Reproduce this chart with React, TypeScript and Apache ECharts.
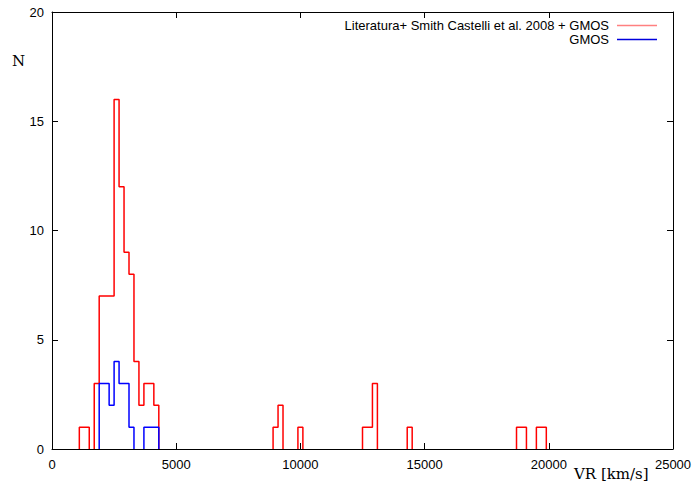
import React, { useEffect, useRef } from "react";
import * as echarts from "echarts";

// Histogram bins: width 200 km/s, listed by left edge (only non-empty bins)
const binWidth = 200;
const redEdges = [1100, 1300, 1700, 1900, 2100, 2300, 2500, 2700, 2900, 3100, 3300, 3500, 3700, 3900, 4100, 8900, 9100, 9900, 12500, 12700, 12900, 14300, 18700, 18900, 19500, 19700];
const redCounts = [1, 1, 3, 7, 7, 7, 16, 12, 9, 8, 4, 2, 3, 3, 2, 1, 2, 1, 1, 1, 3, 1, 1, 1, 1, 1];
const blueEdges = [1900, 2100, 2300, 2500, 2700, 2900, 3100, 3700, 3900, 4100];
const blueCounts = [3, 3, 2, 4, 3, 3, 1, 1, 1, 1];

const xTicks = [0, 5000, 10000, 15000, 20000, 25000];
const yTicks = [0, 5, 10, 15, 20];

const redLabel = "Literatura+ Smith Castelli et al. 2008 + GMOS";
const blueLabel = "GMOS";

function outline(edges: number[], counts: number[]) {
  const pts: any[] = [];
  for (let i = 0; i < edges.length; i++) {
    const l = edges[i];
    const r = l + binWidth;
    const startSeg = i === 0 || edges[i - 1] + binWidth !== l;
    const endSeg = i === edges.length - 1 || edges[i + 1] !== r;
    if (startSeg) pts.push([l, 0]);
    pts.push([l, counts[i]]);
    pts.push([r, counts[i]]);
    if (endSeg) {
      pts.push([r, 0]);
      pts.push([r, "-"]);
    }
  }
  return pts;
}

export default function App() {
  const ref = useRef<HTMLDivElement>(null);
  useEffect(() => {
    if (!ref.current) return;
    const chart = echarts.init(ref.current, null, { renderer: "svg" });
    const axisCommon = {
      type: "value" as const,
      axisLine: { show: true, onZero: false, lineStyle: { color: "#000", width: 1 } },
      axisTick: { show: true, inside: true, length: 6, lineStyle: { color: "#000" } },
      splitLine: { show: false },
    };
    const sans = "'Liberation Sans', Arial, sans-serif";
    const serif = "'DejaVu Serif', serif";
    const fmt = (v: number) => String(v);
    chart.setOption({
      animation: false,
      backgroundColor: "#fff",
      grid: { left: 52, right: 23, top: 12, bottom: 44 },
      xAxis: [
        {
          ...axisCommon,
          position: "bottom",
          min: xTicks[0],
          max: xTicks[xTicks.length - 1],
          interval: 5000,
          axisLabel: { color: "#000", fontSize: 13, fontFamily: sans, margin: 9, formatter: fmt },
        },
        {
          ...axisCommon,
          position: "top",
          min: xTicks[0],
          max: xTicks[xTicks.length - 1],
          interval: 5000,
          axisLabel: { show: false },
        },
      ],
      yAxis: [
        {
          ...axisCommon,
          position: "left",
          min: yTicks[0],
          max: yTicks[yTicks.length - 1],
          interval: 5,
          axisLabel: { color: "#000", fontSize: 13, fontFamily: sans, margin: 8, formatter: fmt },
        },
        {
          ...axisCommon,
          position: "right",
          min: yTicks[0],
          max: yTicks[yTicks.length - 1],
          interval: 5,
          axisLabel: { show: false },
        },
      ],
      series: [
        {
          name: redLabel,
          type: "line",
          data: outline(redEdges, redCounts),
          showSymbol: false,
          connectNulls: false,
          lineStyle: { color: "#ff0000", width: 1.5 },
          itemStyle: { color: "#ff0000" },
          z: 2,
        },
        {
          name: blueLabel,
          type: "line",
          data: outline(blueEdges, blueCounts),
          showSymbol: false,
          connectNulls: false,
          lineStyle: { color: "#0000ff", width: 1.5 },
          itemStyle: { color: "#0000ff" },
          z: 3,
        },
      ],
      graphic: [
        {
          type: "text",
          left: 12,
          top: 53,
          style: { text: "N", font: `15px ${serif}`, fill: "#000" },
        },
        {
          type: "text",
          left: 574,
          top: 466,
          style: { text: "VR [km/s]", font: `15px ${serif}`, fill: "#000" },
        },
        {
          type: "text",
          x: 609,
          y: 25,
          style: { text: redLabel, font: `13px ${sans}`, fill: "#000", align: "right", verticalAlign: "middle" },
        },
        {
          type: "line",
          shape: { x1: 617, y1: 25.5, x2: 657, y2: 25.5 },
          style: { stroke: "#ff8080", lineWidth: 1.5 },
        },
        {
          type: "text",
          x: 609,
          y: 39,
          style: { text: blueLabel, font: `13px ${sans}`, fill: "#000", align: "right", verticalAlign: "middle" },
        },
        {
          type: "line",
          shape: { x1: 617, y1: 39.5, x2: 657, y2: 39.5 },
          style: { stroke: "#0000dd", lineWidth: 1.5 },
        },
      ],
    });
    return () => chart.dispose();
  }, []);
  return (
    <div
      ref={ref}
      style={{ position: "fixed", left: 0, top: 0, width: 696, height: 493, background: "#fff" }}
    />
  );
}
